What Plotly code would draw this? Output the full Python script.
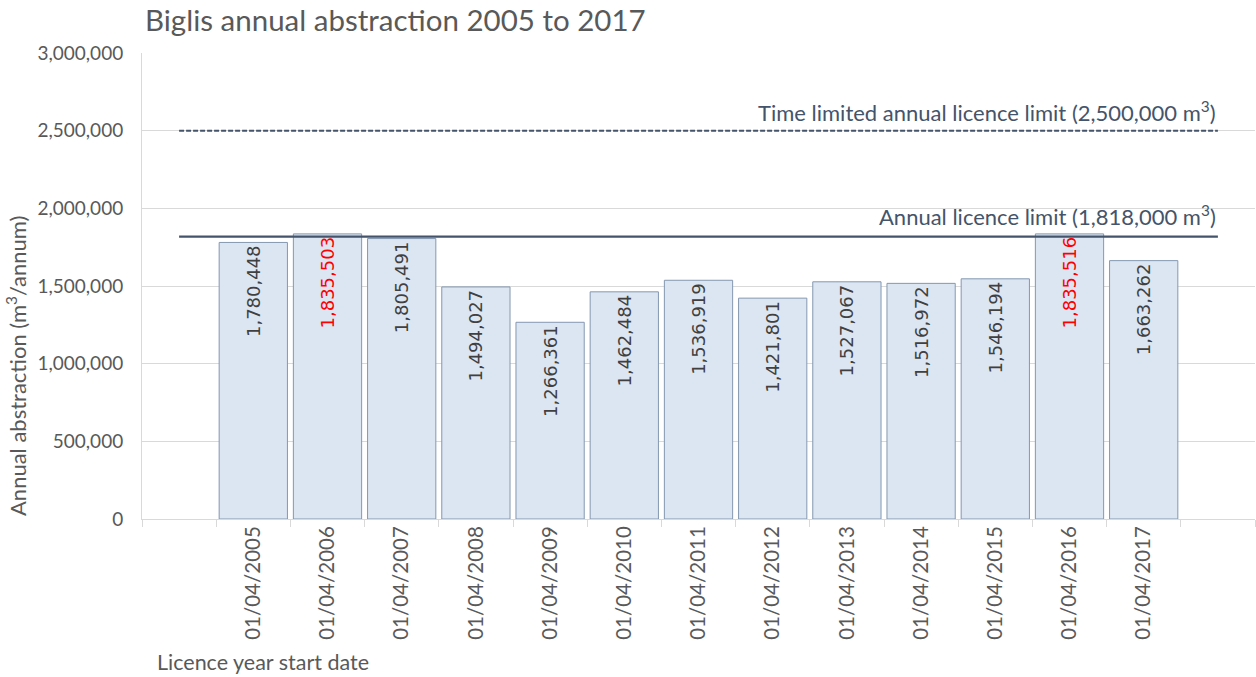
import plotly.graph_objects as go

categories = ["01/04/2005", "01/04/2006", "01/04/2007", "01/04/2008", "01/04/2009",
              "01/04/2010", "01/04/2011", "01/04/2012", "01/04/2013", "01/04/2014",
              "01/04/2015", "01/04/2016", "01/04/2017"]
abstraction = [1780448, 1835503, 1805491, 1494027, 1266361, 1462484, 1536919,
               1421801, 1527067, 1516972, 1546194, 1835516, 1663262]
licence_limit = 1818000
time_limited_limit = 2500000
y_ticks = [0, 500000, 1000000, 1500000, 2000000, 2500000, 3000000]

pad_left, pad_right = " ", "  "
all_cats = [pad_left] + categories + [pad_right]

label_colors = ["#ff0000" if v > licence_limit else "#404040" for v in abstraction]

GRAY = "#595959"
SLATE = "#44546a"
FONT = "Lato"

W, H = 1256, 677
L, R, T, B = 142, 1, 53, 158
PW, PH = W - L - R, H - T - B

fig = go.Figure()
fig.add_trace(go.Bar(
    x=categories, y=abstraction, width=0.92,
    marker=dict(color="#dce6f2", line=dict(color="#8497b0", width=1)),
    text=[f"{v:,}" for v in abstraction],
    textposition="inside", insidetextanchor="end", textangle=-90,
    textfont=dict(family="DejaVu Sans", size=18, color=label_colors),
    constraintext="none",
    showlegend=False, hoverinfo="x+y",
))
fig.add_trace(go.Scatter(
    x=[pad_left, pad_right], y=[time_limited_limit] * 2, mode="lines",
    line=dict(color=SLATE, width=2, dash="5px,2px"), showlegend=False,
))
fig.add_trace(go.Scatter(
    x=[pad_left, pad_right], y=[licence_limit] * 2, mode="lines",
    line=dict(color=SLATE, width=2.3), showlegend=False,
))

fig.add_annotation(x=14, y=time_limited_limit, xref="x", yref="y",
                   text="Time limited annual licence limit (2,500,000 m<sup>3</sup>)",
                   showarrow=False, xanchor="right", yanchor="bottom", yshift=3,
                   font=dict(family=FONT, size=22, color=SLATE))
fig.add_annotation(x=14, y=licence_limit, xref="x", yref="y",
                   text="Annual licence limit (1,818,000 m<sup>3</sup>)",
                   showarrow=False, xanchor="right", yanchor="bottom", yshift=5,
                   font=dict(family=FONT, size=22, color=SLATE))
# x-axis title (placed at bottom-left as in the reference)
fig.add_annotation(x=(155 - L) / PW, y=(H - B - 662) / PH, xref="paper", yref="paper",
                   text="Licence year start date", showarrow=False,
                   xanchor="left", yanchor="middle",
                   font=dict(family=FONT, size=21.5, color=GRAY))
# y-axis title
fig.add_annotation(x=(16 - L) / PW, y=(H - B - 366) / PH, xref="paper", yref="paper",
                   text="Annual abstraction (m<sup>3</sup>/annum)", showarrow=False,
                   textangle=-90, xanchor="center", yanchor="middle",
                   font=dict(family=FONT, size=22, color=GRAY))

fig.update_layout(
    width=W, height=H,
    margin=dict(l=L, r=R, t=T, b=B, autoexpand=False),
    paper_bgcolor="white", plot_bgcolor="white",
    title=dict(text="Biglis annual abstraction 2005 to 2017", x=145 / W, xanchor="left",
               y=1 - 21 / H, yanchor="middle",
               font=dict(family=FONT, size=29.5, color=GRAY)),
    font=dict(family=FONT, color=GRAY),
)

fig.update_xaxes(
    type="category", categoryorder="array", categoryarray=all_cats,
    range=[-0.5, 14.5], tickangle=-90, tickson="boundaries",
    ticks="outside", ticklen=7, tickcolor="#d9d9d9",
    showline=True, linecolor="#d9d9d9", linewidth=1,
    showgrid=False, automargin=False, ticklabelstandoff=-2,
    tickfont=dict(family=FONT, size=20.5, color=GRAY),
)
fig.update_yaxes(
    range=[0, 3000000], tickvals=y_ticks, tickformat=",",
    showgrid=True, gridcolor="#d9d9d9", gridwidth=1,
    showline=True, linecolor="#d9d9d9", zeroline=False,
    ticks="", ticklabelstandoff=14, automargin=False,
    tickfont=dict(family=FONT, size=19, color=GRAY),
)

fig.write_html("out.html", config={"displayModeBar": False},
               post_script="document.body.style.margin='0';")
